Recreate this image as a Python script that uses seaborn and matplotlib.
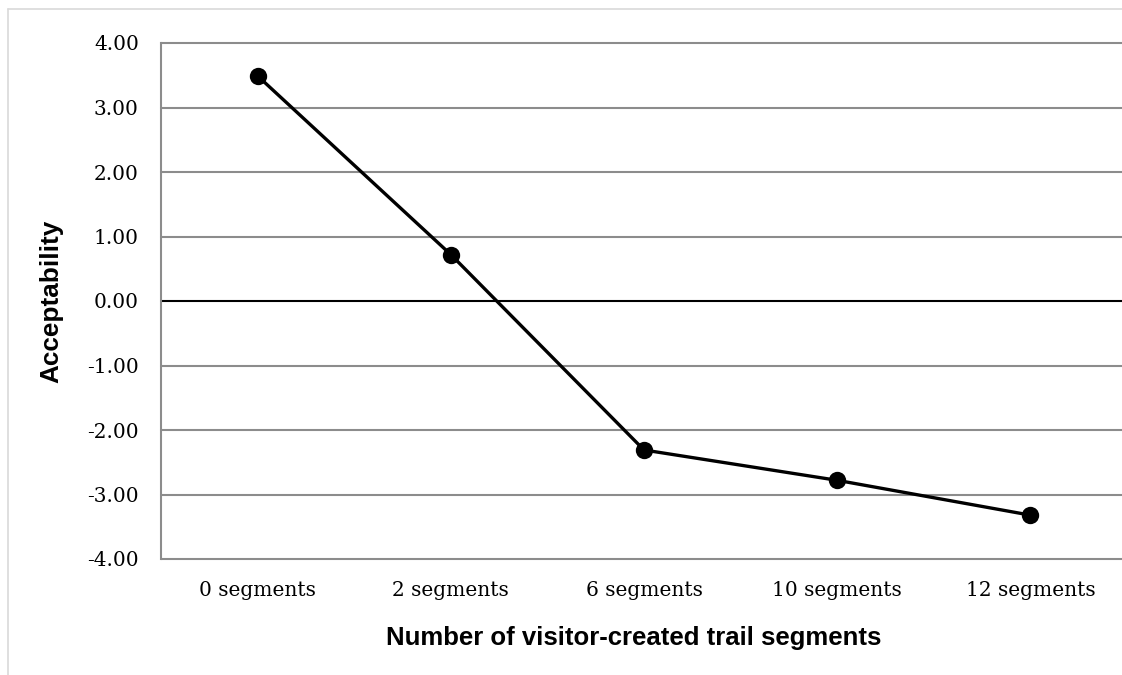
import pandas as pd
import seaborn as sns
import matplotlib.pyplot as plt
from matplotlib.lines import Line2D

# values
segments = ['0 segments', '2 segments', '6 segments', '10 segments', '12 segments']
acceptability = [3.49, 0.72, -2.31, -2.78, -3.32]
y_ticks = [4, 3, 2, 1, 0, -1, -2, -3, -4]

df = pd.DataFrame({'segments': segments, 'acceptability': acceptability})

sns.set_style('white')

fig = plt.figure(figsize=(11.22, 6.75), dpi=100)
W, H = 1122, 675
ax = fig.add_axes([161 / W, 1 - 559 / H, (1127 - 161) / W, (559 - 43) / H])

sns.lineplot(
    data=df,
    x='segments',
    y='acceptability',
    color='black',
    linewidth=2.4,
    marker='o',
    markersize=12.5,
    markeredgewidth=0,
    sort=False,
    ax=ax,
    zorder=5
)

ax.set_xlim(-0.5, 4.5)
ax.set_ylim(-4, 4)
ax.set_yticks(y_ticks)
ax.set_yticklabels([f'{v:.2f}' for v in y_ticks])

# gridlines, zero line drawn in black
for v in y_ticks:
    ax.axhline(v, color='black' if v == 0 else '#8c8c8c', linewidth=1.5, zorder=1, clip_on=False)

for side in ['top', 'right', 'bottom']:
    ax.spines[side].set_visible(False)
ax.spines['left'].set_color('#8c8c8c')
ax.spines['left'].set_linewidth(1.5)

ax.tick_params(axis='both', length=0)
ax.tick_params(axis='y', pad=16)
ax.tick_params(axis='x', pad=16)
for lbl in ax.get_xticklabels() + ax.get_yticklabels():
    lbl.set_fontfamily('DejaVu Serif')
    lbl.set_fontsize(14.5)
    lbl.set_color('black')

ax.set_xlabel('Number of visitor-created trail segments', fontsize=18.5,
              fontweight='bold', family='Liberation Sans', color='black')
ax.set_ylabel('Acceptability', fontsize=18.8, fontweight='bold',
              family='Liberation Sans', color='black')
ax.xaxis.set_label_coords((634 - 161) / (1127 - 161), -(626 - 559) / (559 - 43))
ax.yaxis.set_label_coords(-(161 - 63) / (1127 - 161), 0.5)

# light chart-area border (cropped at right and bottom)
fig.add_artist(Line2D([8 / W, 8 / W], [0, 1 - 9 / H], color='#d9d9d9', linewidth=1.2))
fig.add_artist(Line2D([8 / W, 1.01], [1 - 9 / H, 1 - 9 / H], color='#d9d9d9', linewidth=1.2))

plt.savefig('out.png', dpi=100, facecolor='white')
